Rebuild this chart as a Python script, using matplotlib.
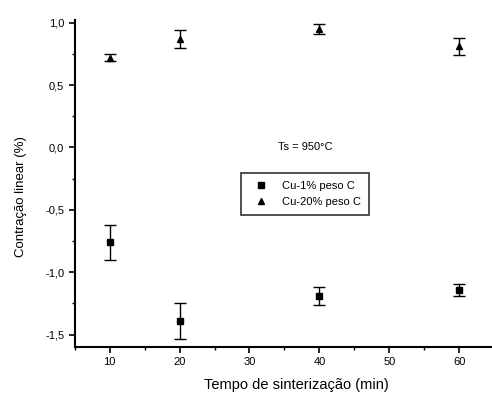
import matplotlib
matplotlib.use("Agg")
import matplotlib.pyplot as plt
from matplotlib.ticker import MultipleLocator, FuncFormatter
from matplotlib.lines import Line2D

plt.rcParams['font.family'] = ['Liberation Sans', 'DejaVu Sans']

tempo = [10, 20, 40, 60]
cu1 = [-0.76, -1.39, -1.19, -1.145]
cu1_err = [0.14, 0.145, 0.07, 0.05]
cu20 = [0.72, 0.87, 0.95, 0.81]
cu20_err = [0.03, 0.07, 0.04, 0.07]
labels = ["Cu-1% peso C", "Cu-20% peso C"]

fig = plt.figure(figsize=(4.92, 4.03), dpi=100)
ax = fig.add_axes([0.152, 0.139, 0.848, 0.811])

ax.errorbar(tempo, cu1, yerr=cu1_err, fmt='s', color='black', ms=4,
            capsize=4, elinewidth=1, capthick=1)
ax.errorbar(tempo, cu20, yerr=cu20_err, fmt='^', color='black', ms=5,
            capsize=4, elinewidth=1, capthick=1)

ax.set_xlim(5, 64.7)
ax.set_ylim(-1.6, 1.02)
ax.spines['top'].set_visible(False)
ax.spines['right'].set_visible(False)
ax.spines['left'].set_linewidth(1.5)
ax.spines['bottom'].set_linewidth(1.5)
ax.xaxis.set_major_locator(MultipleLocator(10))
ax.xaxis.set_minor_locator(MultipleLocator(5))
ax.yaxis.set_major_locator(MultipleLocator(0.5))
ax.yaxis.set_minor_locator(MultipleLocator(0.25))
ax.yaxis.set_major_formatter(FuncFormatter(lambda v, p: f"{v:.1f}".replace('.', ',').replace('-0,0', '0,0')))
ax.tick_params(which='major', length=4, width=1.2, labelsize=8)
ax.tick_params(which='minor', length=2.5, width=1)

ax.set_xlabel("Tempo de sinterização (min)", fontsize=10.5, labelpad=8)
ax.xaxis.set_label_coords(0.53, -0.095)
ax.set_ylabel("Contração linear (%)", fontsize=9.5)
ax.yaxis.set_label_coords(-0.115, 0.46)

ax.text(38, 0.0, "Ts = 950°C", fontsize=8, ha='center', va='center')
handles = [Line2D([], [], ls='none', marker='s', color='black', ms=4),
           Line2D([], [], ls='none', marker='^', color='black', ms=5)]
leg = ax.legend(handles, labels, loc='center', bbox_to_anchor=(0.552, 0.468),
                fontsize=8, frameon=True, fancybox=False, edgecolor='black',
                handlelength=2.2, borderpad=0.7, labelspacing=0.6,
                handletextpad=0.8, borderaxespad=0)
leg.get_frame().set_linewidth(1.2)

fig.savefig("out.png", dpi=100)
